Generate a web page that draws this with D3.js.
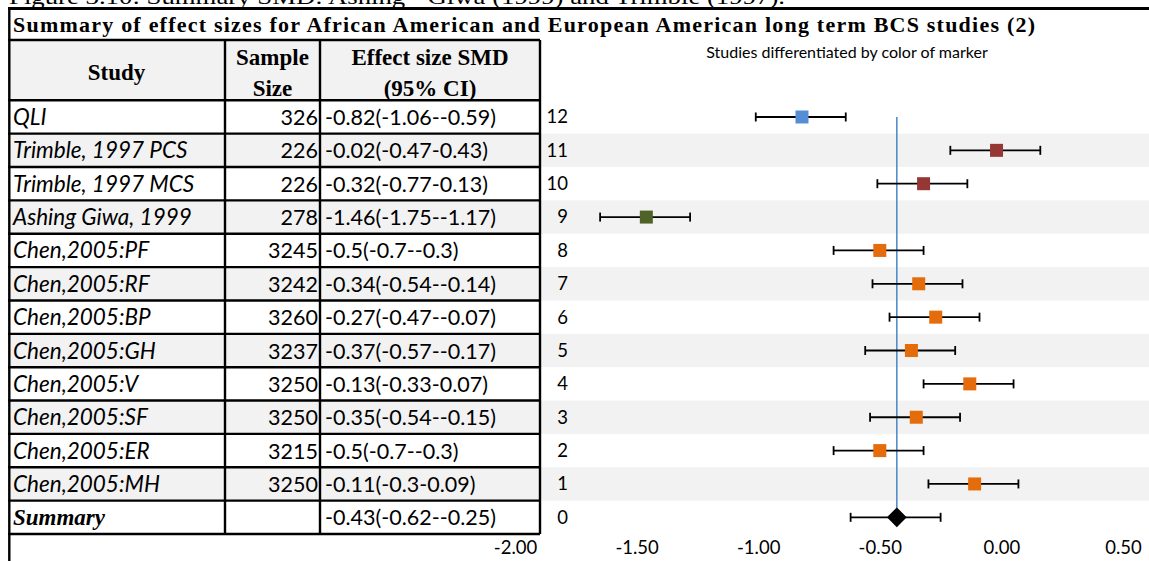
<!DOCTYPE html>
<html>
<head>
<meta charset="utf-8">
<script src="https://cdn.jsdelivr.net/npm/d3@7/dist/d3.min.js"></script>
<style>
  html, body { margin: 0; padding: 0; background: #fff; }
  svg { display: block; }
</style>
</head>
<body>
<svg id="chart" width="1149" height="561"></svg>
<script>
// ---- data ----
const caption = "Figure 3.10: Summary SMD: Ashing - Giwa (1999) and Trimble (1997).";
const title = "Summary of effect sizes for African American and European American long term BCS studies (2)";
const subtitle = "Studies differentiated by color of marker";

const studies = ["QLI", "Trimble, 1997 PCS", "Trimble, 1997 MCS", "Ashing Giwa, 1999",
  "Chen,2005:PF", "Chen,2005:RF", "Chen,2005:BP", "Chen,2005:GH", "Chen,2005:V",
  "Chen,2005:SF", "Chen,2005:ER", "Chen,2005:MH", "Summary"];
const sampleSizes = [326, 226, 226, 278, 3245, 3242, 3260, 3237, 3250, 3250, 3215, 3250, null];
const effectLabels = ["-0.82(-1.06--0.59)", "-0.02(-0.47-0.43)", "-0.32(-0.77-0.13)",
  "-1.46(-1.75--1.17)", "-0.5(-0.7--0.3)", "-0.34(-0.54--0.14)", "-0.27(-0.47--0.07)",
  "-0.37(-0.57--0.17)", "-0.13(-0.33-0.07)", "-0.35(-0.54--0.15)", "-0.5(-0.7--0.3)",
  "-0.11(-0.3-0.09)", "-0.43(-0.62--0.25)"];
const rowPositions = [12, 11, 10, 9, 8, 7, 6, 5, 4, 3, 2, 1, 0];
const effects = [-0.82, -0.02, -0.32, -1.46, -0.5, -0.34, -0.27, -0.37, -0.13, -0.35, -0.5, -0.11, -0.43];
// whisker ends as plotted
const barLow  = [-1.01, -0.21, -0.51, -1.65, -0.69, -0.53, -0.46, -0.56, -0.32, -0.54, -0.69, -0.30, -0.62];
const barHigh = [-0.64,  0.16, -0.14, -1.28, -0.32, -0.16, -0.09, -0.19,  0.05, -0.17, -0.32,  0.07, -0.25];
const groups = ["QLI", "Trimble", "Trimble", "Ashing", "Chen", "Chen", "Chen", "Chen", "Chen",
  "Chen", "Chen", "Chen", "Summary"];
const groupNames = ["QLI", "Trimble", "Ashing", "Chen", "Summary"];
const groupColors = ["#558ed5", "#953735", "#4f6228", "#e46c0a", "#000000"];
const xTicks = [-2.0, -1.5, -1.0, -0.5, 0.0, 0.5];

const rows = studies.map((s, i) => ({
  study: s, n: sampleSizes[i], label: effectLabels[i], pos: rowPositions[i],
  est: effects[i], lo: barLow[i], hi: barHigh[i], group: groups[i]
}));

// ---- layout ----
const W = 1149, H = 561;
const svg = d3.select("#chart");
const sans = "Lato, 'Open Sans', sans-serif";
const serif = "'Liberation Serif', 'Times New Roman', serif";

const x = d3.scaleLinear().domain([-2, 0.5]).range([515, 1123]);
const y = d3.scaleLinear().domain([-0.5, 12.5]).range([534, 100.3]);
const color = d3.scaleOrdinal().domain(groupNames).range(groupColors);

const tableLeft = 8, colEdges = [8, 225, 320, 540];
const headerTop = 40, headerBottom = y(12.5);
const bandRight = W;

// row bands across the chart area
svg.append("g").selectAll("rect")
  .data(rows.filter(d => d.pos % 2 === 1))
  .join("rect")
  .attr("x", colEdges[3]).attr("width", bandRight - colEdges[3])
  .attr("y", d => y(d.pos + 0.5)).attr("height", d => y(d.pos - 0.5) - y(d.pos + 0.5))
  .attr("fill", "#f2f2f2");

// table row fills
svg.append("g").selectAll("rect")
  .data(rows)
  .join("rect")
  .attr("x", tableLeft).attr("width", colEdges[3] - tableLeft)
  .attr("y", d => y(d.pos + 0.5)).attr("height", d => y(d.pos - 0.5) - y(d.pos + 0.5))
  .attr("fill", d => d.pos % 2 === 1 ? "#f2f2f2" : "#ffffff");

// header fill
svg.append("rect")
  .attr("x", tableLeft).attr("y", headerTop)
  .attr("width", colEdges[3] - tableLeft).attr("height", headerBottom - headerTop)
  .attr("fill", "#f2f2f2");

// caption partially above the frame
svg.append("text")
  .attr("x", 9).attr("y", 4)
  .attr("font-family", serif).attr("font-size", 21)
  .attr("textLength", 776).attr("lengthAdjust", "spacingAndGlyphs")
  .text(caption);

// title
svg.append("text")
  .attr("x", 13).attr("y", 32)
  .attr("font-family", serif).attr("font-size", 22).attr("font-weight", "bold")
  .attr("textLength", 1022).attr("lengthAdjust", "spacing")
  .text(title);

// subtitle
svg.append("text")
  .attr("x", 847).attr("y", 58).attr("text-anchor", "middle")
  .attr("font-family", sans).attr("font-size", 16)
  .text(subtitle);

// header labels
const hdr = svg.append("g").attr("font-family", serif).attr("font-weight", "bold")
  .attr("font-size", 23).attr("text-anchor", "middle");
hdr.append("text").attr("x", (colEdges[0] + colEdges[1]) / 2).attr("y", 80).text("Study");
hdr.append("text").attr("x", (colEdges[1] + colEdges[2]) / 2).attr("y", 65).text("Sample");
hdr.append("text").attr("x", (colEdges[1] + colEdges[2]) / 2).attr("y", 96).text("Size");
hdr.append("text").attr("x", (colEdges[2] + colEdges[3]) / 2).attr("y", 65).text("Effect size SMD");
hdr.append("text").attr("x", (colEdges[2] + colEdges[3]) / 2).attr("y", 96).text("(95% CI)");

// table body text
const body = svg.append("g");
body.selectAll("text.study")
  .data(rows)
  .join("text")
  .attr("class", "study")
  .attr("x", 13).attr("y", d => y(d.pos) + 8)
  .attr("font-family", d => d.group === "Summary" ? serif : sans)
  .attr("font-weight", d => d.group === "Summary" ? "bold" : "normal")
  .attr("font-style", "italic")
  .attr("font-size", d => d.group === "Summary" ? 23 : 22.5)
  .text(d => d.study);
body.selectAll("text.n")
  .data(rows.filter(d => d.n != null))
  .join("text")
  .attr("class", "n")
  .attr("x", 318).attr("y", d => y(d.pos) + 8).attr("text-anchor", "end")
  .attr("font-family", sans).attr("font-size", 21.5)
  .text(d => d.n);
body.selectAll("text.es")
  .data(rows)
  .join("text")
  .attr("class", "es")
  .attr("x", 325).attr("y", d => y(d.pos) + 8)
  .attr("font-family", sans).attr("font-size", 21.5)
  .text(d => d.label);

// table grid
const grid = svg.append("g").attr("stroke", "#000").attr("stroke-width", 2.4).attr("fill", "none");
const hLines = [headerTop, headerBottom].concat(rows.map(d => y(d.pos - 0.5)));
grid.selectAll("line.h").data(hLines).join("line").attr("class", "h")
  .attr("x1", tableLeft).attr("x2", colEdges[3]).attr("y1", d => d).attr("y2", d => d);
grid.selectAll("line.v").data(colEdges.slice(1)).join("line").attr("class", "v")
  .attr("x1", d => d).attr("x2", d => d).attr("y1", headerTop).attr("y2", y(-0.5));
// outer frame: top rule and left edge
svg.append("line").attr("x1", tableLeft).attr("x2", W).attr("y1", 8.5).attr("y2", 8.5)
  .attr("stroke", "#000").attr("stroke-width", 2.8);
svg.append("line").attr("x1", 9.3).attr("x2", 9.3).attr("y1", 7).attr("y2", H)
  .attr("stroke", "#000").attr("stroke-width", 2.4);

// axes
const xAxis = d3.axisBottom(x).tickValues(xTicks).tickFormat(d => d.toFixed(2))
  .tickSize(0).tickPadding(7);
const gx = svg.append("g").attr("transform", `translate(0,${y(-0.5)})`).call(xAxis);
gx.select(".domain").remove();
gx.selectAll("text").attr("font-family", sans).attr("font-size", 18.5).attr("fill", "#000");

const yAxis = d3.axisLeft(y).tickValues(rowPositions).tickFormat(d3.format("d"))
  .tickSize(0).tickPadding(0);
const gy = svg.append("g").attr("transform", "translate(568,0)").call(yAxis);
gy.select(".domain").remove();
gy.selectAll("text").attr("font-family", sans).attr("font-size", 18.5).attr("fill", "#000");

// reference line at the pooled estimate
const pooled = rows.find(d => d.group === "Summary");
svg.append("line")
  .attr("x1", x(pooled.est)).attr("x2", x(pooled.est))
  .attr("y1", y(12)).attr("y2", y(0))
  .attr("stroke", "#4a86c8").attr("stroke-width", 1.5);

// error bars
const eb = svg.append("g").attr("stroke", "#000").attr("stroke-width", 1.8);
eb.selectAll("line.w").data(rows).join("line").attr("class", "w")
  .attr("x1", d => x(d.lo)).attr("x2", d => x(d.hi))
  .attr("y1", d => y(d.pos)).attr("y2", d => y(d.pos));
eb.selectAll("line.cl").data(rows).join("line").attr("class", "cl")
  .attr("x1", d => x(d.lo)).attr("x2", d => x(d.lo))
  .attr("y1", d => y(d.pos) - 4.5).attr("y2", d => y(d.pos) + 4.5);
eb.selectAll("line.ch").data(rows).join("line").attr("class", "ch")
  .attr("x1", d => x(d.hi)).attr("x2", d => x(d.hi))
  .attr("y1", d => y(d.pos) - 4.5).attr("y2", d => y(d.pos) + 4.5);

// markers
const sq = d3.symbol().type(d3.symbolSquare).size(13 * 13);
const dm = d3.symbol().type(d3.symbolSquare).size(14 * 14);
svg.append("g").selectAll("path")
  .data(rows)
  .join("path")
  .attr("d", d => d.group === "Summary" ? dm() : sq())
  .attr("transform", d => `translate(${x(d.est)},${y(d.pos)})` + (d.group === "Summary" ? " rotate(45)" : ""))
  .attr("fill", d => color(d.group));
</script>
</body>
</html>
